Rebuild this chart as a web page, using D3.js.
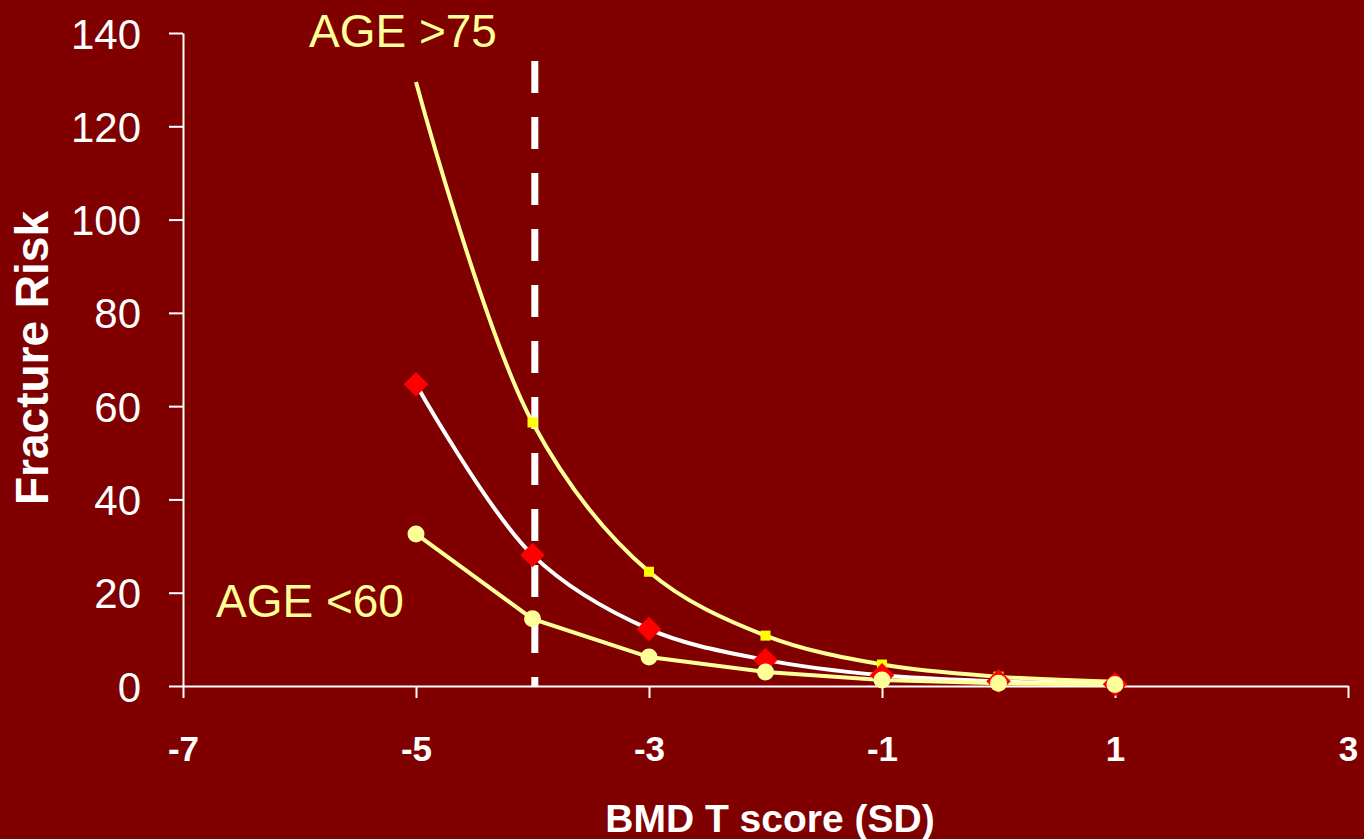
<!DOCTYPE html>
<html>
<head>
<meta charset="utf-8">
<script src="https://cdn.jsdelivr.net/npm/d3@7"></script>
<style>
  html, body { margin: 0; padding: 0; background: #800000; }
  svg { display: block; font-family: "Liberation Sans", Arial, sans-serif; }
</style>
</head>
<body>
<div id="chart"></div>
<script>
// Données
const tScores = [-5, -4, -3, -2, -1, 0, 1];
const riskOld = [129.5, 56.5, 24.5, 10.8, 4.6, 2.0, 0.9];    // AGE >75
const riskMid = [64.7, 28.1, 12.2, 5.6, 2.3, 1.0, 0.4];
const riskYoung = [32.6, 14.4, 6.2, 3.0, 1.3, 0.6, 0.3];    // AGE <60
const xTicks = [-7, -5, -3, -1, 1, 3];
const yTicks = [0, 20, 40, 60, 80, 100, 120, 140];
const threshold = -3.98;
const thresholdTop = 134;

const width = 1364;
const height = 839;

const svg = d3
  .select("#chart")
  .append("svg")
  .attr("width", width)
  .attr("height", height);

svg.append("rect").attr("width", width).attr("height", height).attr("fill", "#800000");

// Échelles
const x = d3.scaleLinear().domain([-7, 3]).range([183, 1348]);
const y = d3.scaleLinear().domain([0, 140]).range([686, 33]);

// Axe Y
const yAxis = svg
  .append("g")
  .attr("transform", `translate(${x(-7)},0)`)
  .call(
    d3.axisLeft(y).tickValues(yTicks).tickSize(14).tickPadding(28).tickSizeOuter(0)
      .tickFormat((d) => String(d))
  );
yAxis.select(".domain").attr("stroke", "white").attr("stroke-width", 2);
yAxis.selectAll(".tick line").attr("stroke", "white").attr("stroke-width", 2);
yAxis
  .selectAll(".tick text")
  .attr("fill", "white")
  .attr("font-size", 42)
  .attr("dy", "0.36em");

// Axe X
const xAxis = svg
  .append("g")
  .attr("transform", `translate(0,${y(0)})`)
  .call(
    d3.axisBottom(x).tickValues(xTicks).tickSize(12).tickPadding(38).tickSizeOuter(0)
      .tickFormat((d) => String(d))
  );
xAxis.select(".domain").attr("stroke", "white").attr("stroke-width", 2);
xAxis.selectAll(".tick line").attr("stroke", "white").attr("stroke-width", 2);
xAxis
  .selectAll(".tick text")
  .attr("fill", "white")
  .attr("font-size", 35)
  .attr("font-weight", "bold");

// Titres des axes
svg
  .append("text")
  .attr("x", 770)
  .attr("y", 832)
  .attr("text-anchor", "middle")
  .attr("fill", "white")
  .attr("font-size", 39)
  .attr("font-weight", "bold")
  .text("BMD T score (SD)");

svg
  .append("text")
  .attr("transform", "translate(48,358) rotate(-90)")
  .attr("text-anchor", "middle")
  .attr("fill", "white")
  .attr("font-size", 46)
  .attr("font-weight", "bold")
  .text("Fracture Risk");

// Ligne pointillée du seuil
svg
  .append("line")
  .attr("x1", x(threshold))
  .attr("x2", x(threshold))
  .attr("y1", y(thresholdTop))
  .attr("y2", y(0))
  .attr("stroke", "white")
  .attr("stroke-width", 7)
  .attr("stroke-dasharray", "32 24");

// Courbes
const smooth = d3
  .line()
  .x((d, i) => x(tScores[i]))
  .y((d) => y(d))
  .curve(d3.curveCatmullRom);
const straight = d3
  .line()
  .x((d, i) => x(tScores[i]))
  .y((d) => y(d));

svg.append("path").attr("d", smooth(riskOld)).attr("fill", "none").attr("stroke", "#ffff99").attr("stroke-width", 4);
svg.append("path").attr("d", smooth(riskMid)).attr("fill", "none").attr("stroke", "white").attr("stroke-width", 4);
svg.append("path").attr("d", straight(riskYoung)).attr("fill", "none").attr("stroke", "#ffff99").attr("stroke-width", 4);

// Marqueurs
svg
  .selectAll("rect.sq")
  .data(riskOld.slice(1))
  .enter()
  .append("rect")
  .attr("class", "sq")
  .attr("x", (d, i) => x(tScores[i + 1]) - 5)
  .attr("y", (d) => y(d) - 5)
  .attr("width", 10)
  .attr("height", 10)
  .attr("fill", "#ffff00");

svg
  .selectAll("path.dia")
  .data(riskMid)
  .enter()
  .append("path")
  .attr("class", "dia")
  .attr("d", d3.symbol(d3.symbolSquare, 300))
  .attr("transform", (d, i) => `translate(${x(tScores[i])},${y(d)}) rotate(45)`)
  .attr("fill", "#ff0000");

svg
  .selectAll("circle.dot")
  .data(riskYoung)
  .enter()
  .append("circle")
  .attr("class", "dot")
  .attr("cx", (d, i) => x(tScores[i]))
  .attr("cy", (d) => y(d))
  .attr("r", 8.5)
  .attr("fill", "#ffff99");

// Étiquettes
svg
  .append("text")
  .attr("x", 309)
  .attr("y", 47)
  .attr("fill", "#ffff99")
  .attr("font-size", 46)
  .text("AGE >75");

svg
  .append("text")
  .attr("x", 216)
  .attr("y", 617)
  .attr("fill", "#ffff99")
  .attr("font-size", 46)
  .text("AGE <60");
</script>
</body>
</html>
